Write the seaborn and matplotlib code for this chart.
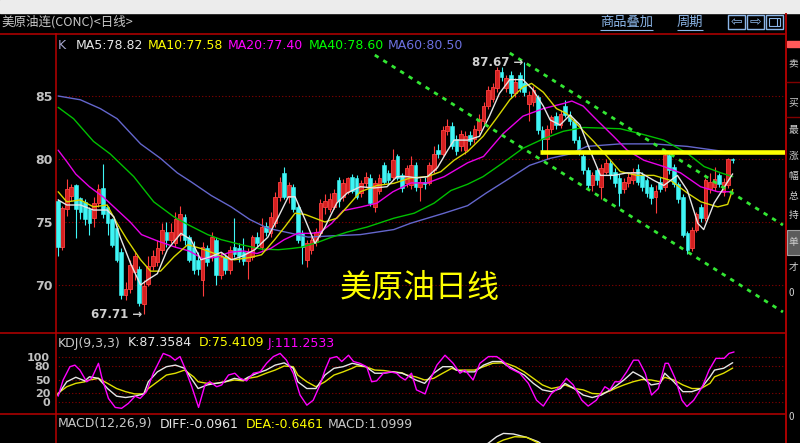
import seaborn as sns
import pandas as pd
import numpy as np
import matplotlib.pyplot as plt
from matplotlib.patches import Rectangle

# 美原油连 日线 K线数据 (从截图估读)
opens = [76.7, 73.0, 76.0, 77.1, 77.9, 76.9, 76.6, 76.0, 75.3, 76.5,
         77.7, 76.2, 75.2, 74.5, 72.6, 69.2, 69.7, 71.0, 71.3, 68.5,
         70.1, 71.5, 71.8, 72.8, 74.2, 73.6, 73.3, 74.0, 75.4, 73.8,
         73.0, 72.0, 70.4, 72.9, 72.2, 73.6, 70.8, 72.2, 71.2, 73.0,
         72.9, 72.6, 71.9, 72.2, 73.8, 73.0, 74.7, 74.1, 74.9, 77.0,
         78.9, 77.0, 77.8, 76.2, 74.1, 72.0, 72.8, 73.4, 74.1, 76.2,
         76.0, 76.2, 78.3, 77.0, 77.4, 78.6, 78.5, 77.3, 78.1, 78.5,
         76.2, 77.5, 79.5, 78.9, 78.6, 80.2, 78.7, 78.1, 77.9, 79.5,
         77.8, 78.2, 78.1, 79.1, 80.7, 80.4, 82.2, 82.6, 81.6, 81.0,
         80.7, 81.9, 81.6, 82.3, 83.0, 84.2, 84.8, 85.6, 86.9, 85.6,
         86.7, 85.2, 86.7, 86.0, 84.4, 84.5, 84.9, 82.3, 81.6, 82.4,
         83.4, 82.7, 84.2, 83.5, 83.0, 81.5, 80.2, 79.1, 77.9, 79.1,
         77.8, 79.0, 79.7, 79.0, 78.5, 77.6, 78.1, 78.3, 79.2, 78.7,
         78.3, 77.8, 77.0, 78.2, 77.8, 80.3, 79.4, 78.0, 77.0, 74.1,
         72.9, 74.4, 76.2, 75.3, 77.6, 77.8, 78.7, 77.4, 77.9, 80.0]
highs = [76.8, 76.3, 78.4, 78.0, 78.0, 77.0, 76.8, 76.2, 77.0, 78.0,
         79.6, 76.3, 75.3, 74.7, 72.9, 70.2, 72.0, 72.6, 71.5, 70.4,
         72.3, 72.8, 73.6, 74.9, 75.0, 74.9, 75.8, 76.3, 75.6, 74.0,
         73.5, 72.6, 73.4, 73.2, 74.2, 73.8, 72.6, 72.5, 73.1, 75.3,
         73.3, 73.7, 72.9, 74.0, 74.2, 75.3, 75.0, 75.8, 77.4, 78.6,
         79.4, 78.2, 78.0, 76.4, 74.4, 73.6, 73.9, 74.5, 76.8, 77.2,
         77.3, 77.6, 78.6, 78.4, 78.6, 78.8, 78.7, 78.3, 79.0, 78.8,
         78.3, 78.8, 79.8, 79.1, 80.8, 80.4, 78.9, 79.5, 80.2, 79.8,
         78.5, 78.6, 79.8, 81.0, 81.2, 82.6, 83.2, 82.9, 81.9, 82.3,
         82.2, 82.2, 82.7, 83.6, 84.5, 85.8, 86.0, 87.3, 87.3, 86.7,
         87.0, 86.4, 86.9, 87.67, 85.4, 85.8, 85.1, 82.6, 82.7, 83.5,
         83.7, 83.9, 84.7, 83.8, 83.2, 81.8, 80.6, 79.4, 79.0, 79.4,
         79.6, 80.0, 80.0, 79.3, 78.8, 78.5, 78.9, 79.3, 79.6, 79.0,
         78.5, 78.0, 77.9, 78.6, 80.4, 80.4, 79.6, 78.2, 77.2, 74.3,
         74.6, 75.8, 76.4, 78.5, 78.9, 79.4, 78.9, 78.5, 80.1, 80.1]
lows = [72.3, 72.8, 75.5, 76.7, 73.7, 75.2, 74.8, 74.0, 74.6, 76.2,
        75.3, 74.0, 73.0, 71.8, 68.9, 68.8, 69.4, 70.4, 68.3, 67.71,
        69.9, 71.2, 71.5, 72.5, 73.0, 73.3, 73.0, 73.5, 73.2, 71.8,
        70.9, 70.8, 69.1, 71.5, 71.9, 70.0, 70.5, 70.9, 70.9, 72.2,
        71.8, 71.6, 70.5, 72.0, 73.0, 72.8, 73.9, 73.8, 74.6, 76.7,
        76.8, 76.5, 75.8, 73.3, 71.7, 71.4, 72.5, 73.1, 73.8, 75.6,
        75.8, 76.0, 76.2, 76.7, 77.2, 77.3, 76.8, 77.0, 77.8, 76.3,
        75.8, 77.2, 78.0, 78.0, 78.3, 78.3, 77.4, 77.8, 77.6, 77.5,
        76.7, 77.6, 77.9, 78.9, 80.1, 80.2, 81.9, 80.8, 80.3, 80.6,
        80.4, 81.1, 81.3, 82.0, 82.8, 84.0, 84.5, 85.3, 86.2, 85.3,
        84.9, 84.9, 85.3, 85.0, 83.0, 84.2, 82.0, 80.4, 80.0, 82.1,
        82.4, 82.5, 83.3, 82.7, 81.3, 80.3, 78.8, 77.6, 77.5, 77.9,
        76.8, 78.8, 78.4, 77.8, 76.3, 77.3, 77.8, 78.0, 77.9, 77.5,
        77.0, 76.4, 75.7, 77.4, 77.5, 78.8, 77.8, 76.5, 73.8, 72.5,
        72.7, 74.2, 75.0, 75.1, 77.3, 77.5, 77.8, 77.1, 77.7, 79.7]
closes = [73.0, 76.1, 77.6, 77.8, 76.0, 75.8, 75.2, 74.9, 76.5, 77.6,
          75.6, 74.9, 73.2, 72.0, 69.2, 69.7, 71.6, 72.3, 68.6, 69.9,
          71.5, 72.3, 72.9, 74.4, 73.6, 74.2, 75.2, 75.6, 73.6, 72.0,
          71.2, 71.3, 73.0, 71.8, 73.8, 70.8, 72.2, 71.2, 72.8, 72.5,
          72.3, 71.9, 72.6, 73.8, 73.3, 74.6, 74.2, 75.4, 77.0, 78.2,
          77.0, 77.9, 76.0, 73.6, 73.0, 73.3, 73.6, 74.2, 76.5, 76.7,
          76.8, 77.3, 76.7, 78.1, 78.5, 77.5, 77.0, 78.1, 78.6, 76.5,
          78.1, 78.5, 78.2, 78.3, 79.9, 78.5, 77.7, 79.3, 79.5, 77.8,
          78.2, 78.0, 79.5, 80.4, 80.4, 82.3, 82.6, 81.0, 80.6, 82.0,
          81.8, 81.4, 82.4, 83.2, 84.2, 85.5, 85.7, 87.1, 86.5, 86.4,
          85.2, 86.1, 85.6, 85.3, 85.1, 85.5, 82.3, 81.6, 82.4, 83.3,
          82.7, 83.6, 83.5, 83.0, 81.5, 80.5, 79.1, 77.9, 78.7, 78.3,
          79.3, 79.7, 78.7, 78.1, 77.3, 78.2, 78.6, 79.0, 78.2, 77.8,
          77.3, 76.9, 77.5, 77.6, 80.3, 79.1, 78.0, 76.8, 74.0, 72.8,
          74.4, 75.6, 75.3, 78.3, 78.2, 78.4, 78.0, 78.2, 80.0, 79.9]

# 均线 (按K线序号读取的点)
ma5_bar = [0.1, 2.0, 5.0, 7.9, 10.9, 12.4, 13.8, 16.1, 18.3, 19.8, 22.0, 24.2, 27.2, 29.4, 31.6, 33.8,
           36.1, 38.3, 40.5, 43.5, 46.4, 48.7, 50.9, 52.4, 54.6, 56.8, 59.0, 60.5, 61.6, 63.9, 66.8,
           69.8, 72.7, 74.9, 77.2, 79.4, 81.6, 83.8, 86.1, 87.5, 90.5, 93.1, 95.3, 97.5, 99.8, 102.7,
           104.9, 107.2, 108.7, 110.9, 113.1, 115.3, 117.5, 119.8, 122.7, 125.7, 128.7, 131.6, 133.8,
           136.8, 139.0, 141.3, 142.6, 144.9, 147.2, 149.0]
ma5_val = [76.75, 76.35, 76.35, 75.95, 75.95, 75.4, 73.8, 71.7, 70.0, 70.4, 70.9, 72.8, 74.1, 73.6, 72.0,
           72.25, 72.6, 72.0, 72.25, 72.8, 73.8, 75.4, 77.0, 77.0, 75.2, 73.3, 74.6, 75.7, 76.5, 77.3,
           77.8, 77.7, 77.8, 78.6, 78.6, 78.5, 78.6, 79.3, 80.7, 81.5, 81.5, 81.8, 83.4, 85.2, 86.3,
           86.3, 85.5, 84.2, 83.1, 82.7, 83.5, 82.7, 80.7, 78.7, 78.7, 78.9, 78.9, 78.3, 77.9, 78.7,
           77.5, 74.9, 74.4, 76.5, 77.8, 78.82]
ma10_bar = [0.1, 2.0, 5.0, 7.9, 10.9, 13.1, 15.3, 18.3, 20.5, 22.7, 25.7, 28.7, 31.6, 34.6, 37.5, 39.0,
            42.7, 45.0, 47.9, 50.1, 52.4, 54.6, 56.8, 59.0, 61.6, 63.9, 66.8, 70.5, 74.2, 77.9, 81.6,
            84.6, 87.5, 90.5, 93.9, 96.8, 99.8, 102.7, 104.6, 107.2, 110.1, 112.4, 115.3, 118.3, 121.3,
            124.2, 127.9, 131.6, 135.3, 139.0, 142.0, 145.7, 147.9, 149.0]
ma10_val = [77.4, 76.6, 76.75, 76.2, 76.35, 74.9, 73.6, 72.0, 71.1, 71.1, 72.25, 73.2, 72.9, 72.5, 72.1,
            72.0, 72.2, 72.4, 73.6, 74.6, 75.7, 75.6, 75.3, 75.0, 75.3, 76.2, 77.4, 77.9, 78.07, 78.5,
            78.6, 79.0, 79.9, 80.6, 81.8, 83.2, 84.7, 85.7, 86.0, 85.3, 84.0, 83.6, 82.5, 81.4, 80.2,
            79.0, 78.7, 78.7, 78.3, 77.3, 76.6, 76.2, 76.4, 77.58]
ma20_bar = [0.1, 2.0, 4.0, 7.0, 10.0, 13.0, 16.0, 18.5, 22.0, 26.0, 29.0, 32.0, 35.0, 38.0, 41.0, 44.0,
            47.0, 50.0, 53.0, 56.0, 58.0, 60.5, 63.0, 67.0, 70.5, 74.0, 78.0, 81.6, 85.3, 90.5, 94.0,
            98.3, 102.7, 107.2, 111.6, 113.5, 116.0, 119.0, 122.7, 125.7, 129.4, 133.8, 137.5, 141.9,
            145.7, 149.0]
ma20_val = [80.7, 79.8, 78.8, 77.8, 77.0, 76.0, 75.0, 74.0, 73.5, 73.0, 72.7, 72.1, 72.2, 72.6, 72.7,
            72.5, 72.9, 73.6, 74.1, 74.1, 74.2, 74.9, 75.9, 76.2, 76.5, 77.4, 78.1, 78.1, 78.6, 79.7,
            80.2, 82.0, 83.4, 84.0, 84.4, 84.6, 84.2, 83.1, 81.8, 80.7, 79.9, 79.4, 78.9, 77.8, 77.4,
            77.40]
ma40_bar = [0.1, 3.5, 7.9, 11.6, 16.8, 21.2, 25.7, 28.7, 33.1, 36.1, 40.5, 45.0, 48.7, 51.6, 53.8, 57.5,
            60.5, 63.9, 68.3, 74.2, 78.7, 83.1, 86.8, 90.5, 93.9, 98.3, 102.7, 107.2, 111.6, 116.1,
            120.5, 124.2, 128.7, 133.8, 139.0, 142.7, 146.4, 149.0]
ma40_val = [84.1, 83.2, 81.4, 80.4, 78.6, 76.6, 75.4, 74.8, 74.0, 73.6, 73.2, 72.85, 72.8, 72.9, 73.0,
            73.4, 73.8, 74.2, 74.6, 75.3, 75.7, 76.5, 77.5, 78.0, 78.6, 79.7, 80.85, 81.6, 82.2, 82.5,
            82.45, 82.4, 82.0, 81.5, 80.45, 79.4, 78.9, 78.60]
ma60_bar = [0.1, 5.0, 9.4, 13.1, 18.3, 22.7, 26.4, 29.4, 33.9, 38.3, 42.4, 46.4, 51.6, 55.3, 60.5, 66.8,
            74.2, 77.9, 81.6, 85.3, 90.5, 94.6, 99.0, 104.2, 108.7, 113.1, 116.8, 124.2, 131.6, 139.0,
            145.0, 149.0]
ma60_val = [85.0, 84.7, 84.0, 83.2, 81.2, 80.05, 78.9, 78.2, 77.1, 76.2, 75.2, 74.5, 74.1, 73.8, 73.9,
            74.0, 74.4, 74.9, 75.3, 75.7, 76.3, 77.3, 78.3, 79.5, 80.05, 80.4, 81.0, 81.2, 81.2, 81.0,
            80.7, 80.50]

# 画线工具: 下降通道 (起止K线序号, 价格) 与压力线
trend_bars = [[70.0, 160.1], [99.8, 160.1]]
trend_prices = [[88.25, 67.86], [88.41, 74.76]]
resist_price = 80.54
resist_from = 106.5

# KDJ(9,3,3)
kd_bar = [0, 2, 4, 6, 7, 9, 11, 13, 15, 17, 19, 20, 22, 24, 26, 28, 30, 31, 33, 35, 37, 39, 41, 42,
          44, 46, 48, 50, 52, 53, 55, 57, 59, 61, 63, 65, 66, 68, 70, 72, 74, 76, 77, 79, 81, 83, 85,
          87, 88, 90, 92, 94, 96, 98, 99, 101, 103, 105, 107, 109, 111, 112, 114, 116, 118, 120, 122,
          123, 125, 127, 129, 131, 133, 134, 136, 138, 140, 142, 144, 145, 147, 149]
k_vals = [15.5, 45, 55, 47, 56, 52.6, 30, 13, 10, 13, 18, 45, 67, 78.5, 82, 75, 45, 30, 38, 41.5,
          45, 52.6, 49, 55, 64, 71, 82, 87, 75, 45, 30, 30, 60, 75, 78.5, 86, 84, 78.5, 64, 64,
          67, 64, 60, 49, 41.5, 64, 78.5, 78.5, 71, 67, 67, 82, 90, 90, 82, 71, 60, 41.5, 27, 23,
          30, 41.5, 30, 15.5, 10, 15.5, 27, 34, 49, 67, 56, 38, 41.5, 64, 45, 23, 23, 30, 56, 71,
          75, 87.36]
d_vals = [19, 34, 41.5, 45, 49, 52.6, 41.5, 30, 23, 18, 18, 30, 45, 60, 64, 71, 56, 45, 41.5, 41.5,
          45, 49, 47, 52.6, 56, 64, 71, 80, 78.5, 60, 45, 34, 45, 60, 67, 75, 80, 78.5, 71, 70,
          67, 65, 60, 56, 49, 52.6, 64, 75, 71, 71, 71, 78.5, 86, 87, 86, 78.5, 67, 52.6, 38, 30,
          34, 38, 30, 27, 19, 18, 25, 30, 38, 45, 50, 49, 45, 55, 49, 38, 30, 30, 41.5, 56,
          64, 75.41]
j_bar = [0.1, 1.2, 2.7, 3.8, 4.9, 6.4, 7.5, 9.0, 9.7, 11.2, 12.7, 14.1, 15.6, 17.1, 18.2, 19.6, 21.1,
         22.2, 23.3, 24.8, 25.9, 27.0, 28.1, 29.6, 31.1, 32.5, 33.6, 35.1, 36.2, 37.7, 39.1, 40.2,
         41.7, 43.2, 44.7, 46.1, 47.6, 49.1, 50.5, 52.0, 53.5, 55.0, 56.4, 57.9, 59.0, 60.1, 61.6,
         62.7, 64.2, 65.3, 66.7, 68.2, 69.3, 70.4, 71.9, 73.4, 74.8, 75.6, 76.7, 78.1, 79.2, 81.1,
         82.2, 83.7, 85.5, 87.3, 88.8, 89.9, 91.7, 93.2, 95.1, 96.9, 98.4, 99.8, 102.0, 103.9, 105.7,
         107.2, 109.0, 110.9, 112.3, 113.8, 115.7, 117.1, 118.9, 120.8, 121.9, 123.0, 124.1, 125.6,
         127.1, 128.2, 129.7, 131.1, 132.6, 134.1, 134.8, 136.3, 137.8, 138.9, 140.4, 142.3, 143.8,
         145.3, 147.1, 148.2, 149.3]
j_vals = [13, 49, 78.5, 82, 71, 45, 52.6, 86, 56, 8, -12, -14, -3, 13, 8, 23, 64, 86, 108, 102, 93,
          101, 75, 34, -12, 38, 45, 34, 38, 60, 64, 53, 47, 64, 67, 86, 101, 108, 93, 64, 15.5, -7,
          4, 38, 71, 97, 101, 90, 104, 90, 86, 78.5, 45, 47, 64, 67, 64, 56, 49, 64, 27, 18, 49, 82,
          104, 86, 64, 71, 49, 86, 101, 101, 90, 75, 64, 41.5, 4, -9, 19, 34, 52.6, 38, 4, -9, 4, 34,
          27, 45, 45, 67, 93, 93, 64, 15.5, 30, 86, 86, 52.6, 4, -10, 4, 34, 71, 97, 97, 108, 111.25]

# MACD 面板只露出顶部一小段
diff_bar = [94.0, 95.1, 96.9, 98.4, 100.6, 103.5, 106.1, 107.5]
diff_val = [1.4, 1.5, 1.71, 1.82, 1.8, 1.69, 1.54, 1.4]
dea_bar = [97.0, 98.4, 100.9, 103.5, 106.1, 107.0]
dea_val = [1.5, 1.6, 1.71, 1.69, 1.5, 1.4]

sns.set_theme(style="dark", rc={"axes.facecolor": "black", "figure.facecolor": "black",
                                 "savefig.facecolor": "black"})
plt.rcParams['font.family'] = ['DejaVu Sans', 'Noto Sans CJK SC']
CJK = ['Noto Sans CJK SC', 'DejaVu Sans']

W, H = 800, 443
fig = plt.figure(figsize=(W / 100, H / 100), dpi=100)


def area(left, top, right, bottom):
    return [left / W, 1 - bottom / H, (right - left) / W, (bottom - top) / H]


bg = fig.add_axes([0, 0, 1, 1], zorder=0)
bg.set_xlim(0, W)
bg.set_ylim(H, 0)
bg.axis('off')

step = 4.53
x0 = -(57.7 - 55) / step
x1 = (785 - 57.7) / step

ax = fig.add_axes(area(55, 33, 785, 332), zorder=1)
kdj = fig.add_axes(area(55, 332, 785, 413), zorder=1)
macd = fig.add_axes(area(55, 413, 785, 443), zorder=1)
for a in (ax, kdj, macd):
    a.set_facecolor('none')
    a.set_xlim(x0, x1)
    a.set_xticks([])
    for s in a.spines.values():
        s.set_visible(False)
    a.tick_params(axis='y', length=0, labelcolor='#c0c0c0')

grid_kw = dict(color='#8a0000', linestyle=(0, (1, 2)), linewidth=0.8)

# ---- 主图 ----
ax.set_ylim(66.27, 90.0)
ax.set_yticks([70, 75, 80, 85])
ax.tick_params(axis='y', labelsize=9, pad=2)
for t in ax.get_yticklabels():
    t.set_fontweight('bold')
ax.grid(axis='y', **grid_kw)
ax.grid(axis='x', visible=False)

df = pd.DataFrame({'open': opens, 'high': highs, 'low': lows, 'close': closes})
df['bar'] = np.arange(len(df))
up = (df['close'] >= df['open']).to_numpy()
body_lo = np.minimum(df['open'], df['close']).to_numpy()
body_h = np.maximum((df['close'] - df['open']).abs().to_numpy(), 0.06)
wick_col = np.where(up, '#ff3c3c', '#3ff6f6')
ax.vlines(df['bar'], df['low'], df['high'], colors=wick_col, linewidth=0.8, zorder=2)
ax.bar(df['bar'][up], body_h[up], bottom=body_lo[up], width=0.8, color='#d42020',
       edgecolor='#ff4040', linewidth=0.6, zorder=3)
ax.bar(df['bar'][~up], body_h[~up], bottom=body_lo[~up], width=0.8, color='#3ff6f6',
       edgecolor='#3ff6f6', linewidth=0.4, zorder=3)

for b, v, col in [(ma60_bar, ma60_val, '#6466cc'), (ma40_bar, ma40_val, '#00c000'),
                  (ma20_bar, ma20_val, '#e800e8'), (ma10_bar, ma10_val, '#d8d800'),
                  (ma5_bar, ma5_val, '#e6e6e6')]:
    sns.lineplot(x=b, y=v, ax=ax, color=col, linewidth=1.0, estimator=None, zorder=4)

for tb, tp in zip(trend_bars, trend_prices):
    ax.plot(tb, tp, color='#33e633', linewidth=2.0, linestyle=(0, (1.6, 2.0)), zorder=5)
ax.hlines(resist_price, resist_from, x1, color='#ffff00', linewidth=3.3, zorder=5)

ax.text(102.7, 87.67, '87.67 →', ha='right', va='center', fontsize=8.5, color='#d0d0d0',
        fontweight='bold', zorder=6)
ax.text(18.7, 67.64, '67.71 →', ha='right', va='center', fontsize=8.5, color='#d0d0d0',
        fontweight='bold', zorder=6)
ax.text(0.5, 0.147, '美原油日线', transform=ax.transAxes, ha='center', va='center',
        fontsize=23, color='#ffff00', family=CJK, zorder=6)

# ---- KDJ ----
kdj.set_ylim(-24.4, 155.6)
kdj.set_yticks([0, 20, 50, 80, 100])
kdj.tick_params(axis='y', labelsize=8, pad=3.6)
for t in kdj.get_yticklabels():
    t.set_fontweight('bold')
kdj.grid(axis='y', **grid_kw)
kdj.grid(axis='x', visible=False)
sns.lineplot(x=kd_bar, y=d_vals, ax=kdj, color='#e0e000', linewidth=1.0, estimator=None)
sns.lineplot(x=kd_bar, y=k_vals, ax=kdj, color='#e6e6e6', linewidth=1.0, estimator=None)
sns.lineplot(x=j_bar, y=j_vals, ax=kdj, color='#ff00ff', linewidth=1.0, estimator=None)

# ---- MACD ----
macd.set_ylim(1.5, 2.5)
macd.set_yticks([])
macd.grid(False)
sns.lineplot(x=diff_bar, y=diff_val, ax=macd, color='#e6e6e6', linewidth=1.0, estimator=None)
sns.lineplot(x=dea_bar, y=dea_val, ax=macd, color='#e0e000', linewidth=1.0, estimator=None)

# ---- 窗口框架与文字 ----
bg.add_patch(Rectangle((0, 0), W, 12.5, color='#ececec', zorder=1))
red = '#b80000'
for yy in (33.5, 332.5, 413.5):
    bg.hlines(yy, 0, 785, color=red, linewidth=1.1)
bg.vlines(55.5, 33, H, color=red, linewidth=1.1)
bg.vlines(785.5, 13, H, color=red, linewidth=1.3)

bg.text(1, 22, '美原油连(CONC)<日线>', color='#c8c8c8', fontsize=9, va='center', family=CJK)
blue = '#8cb6e8'
bg.text(600, 22, '商品叠加', color=blue, fontsize=9.5, va='center', family=CJK)
bg.hlines(29.5, 600, 653, color=blue, linewidth=0.8)
bg.text(677, 22, '周期', color=blue, fontsize=9.5, va='center', family=CJK)
bg.hlines(29.5, 677, 703, color=blue, linewidth=0.8)
for bx, glyph in [(728, '⇦'), (747, '⇨'), (766, '')]:
    bg.add_patch(Rectangle((bx, 15), 17, 14, facecolor='none', edgecolor=blue, linewidth=1))
    if glyph:
        bg.text(bx + 8.5, 22, glyph, color=blue, fontsize=10, ha='center', va='center')
bg.add_patch(Rectangle((769, 18), 11, 8, facecolor='none', edgecolor=blue, linewidth=0.8))
bg.vlines(777, 18, 26, color=blue, linewidth=0.8)

bg.text(58, 45, 'K', color='#a8a8d0', fontsize=9, va='center')
for xx, txt, col in [(76, 'MA5:78.82', '#e8e8e8'), (148, 'MA10:77.58', '#ffff00'),
                     (228, 'MA20:77.40', '#ff00ff'), (309, 'MA40:78.60', '#00ff00'),
                     (388, 'MA60:80.50', '#6c70e0')]:
    bg.text(xx, 45, txt, color=col, fontsize=9, va='center')
for xx, txt, col in [(58, 'KDJ(9,3,3)', '#c8c8c8'), (128, 'K:87.3584', '#e8e8e8'),
                     (199, 'D:75.4109', '#ffff00'), (268, 'J:111.2533', '#ff00ff')]:
    bg.text(xx, 343, txt, color=col, fontsize=9, va='center')
for xx, txt, col in [(58, 'MACD(12,26,9)', '#c8c8c8'), (160, 'DIFF:-0.0961', '#e8e8e8'),
                     (246, 'DEA:-0.6461', '#ffff00'), (328, 'MACD:1.0999', '#c8c8c8')]:
    bg.text(xx, 424, txt, color=col, fontsize=9, va='center')

# 右侧报价栏 (窄, 用小字)
bg.add_patch(Rectangle((787, 41), 13, 6, color='#ff5a5a'))
bg.hlines([82, 117], 786, W, color='#800000', linewidth=1)
bg.add_patch(Rectangle((786.5, 230), 14, 25, facecolor='#5c5c5c', edgecolor='#a0a0a0', linewidth=0.8))
for yy, ch in [(63, '卖'), (102, '买'), (130, '最'), (156, '涨'), (176, '幅'), (196, '总'),
               (215, '持'), (242, '单'), (267, '才'), (293, '0'), (417, '0')]:
    bg.text(788.5, yy, ch, color='#d0d0d0', fontsize=7, va='center', family=CJK)

fig.savefig('out.png', dpi=100)
